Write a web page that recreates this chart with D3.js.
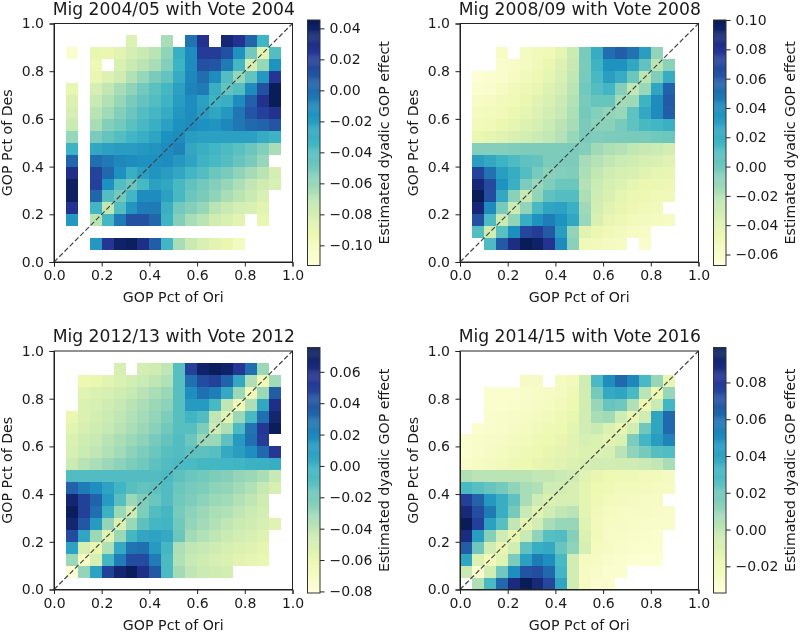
<!DOCTYPE html>
<html>
<head>
<meta charset="utf-8">
<script src="https://cdn.jsdelivr.net/npm/d3@7"></script>
<style>
    html, body { margin: 0; padding: 0; background: #fff; }
    svg { display: block; filter: blur(0.35px); }
    text { font-family: "DejaVu Sans", sans-serif; fill: #1a1a1a; }
    .axis text { font-size: 14px; }
    .axis line, .axis path { stroke: #222; stroke-width: 1px; }
    .title { font-size: 17.2px; text-anchor: middle; }
    .label { font-size: 14.2px; text-anchor: middle; }
    .cell { shape-rendering: crispEdges; }
</style>
</head>
<body>
<div id="chart"></div>
<script>
const _ = null;

// effect values in thousandths, rows run from the top of the plot (y 0.95-1.00) down, columns from x 0.00-0.05
const grid2004 = [
    [],
    [_,_,_,_,_,_,-85,_,_,-65,_,-2,28,_,36,27,3,-33],
    [_,-108,_,-90,-92,-88,-80,-75,-70,-58,-30,-12,22,22,12,-15,-50,-88,-40],
    [_,_,_,-95,_,-83,-75,-70,-65,-55,-32,-12,12,10,-5,-35,-80,-60,-15],
    [_,_,_,-92,-85,-78,-68,-60,-52,-45,-28,-10,0,-12,-40,-60,-45,-18,25],
    [_,-90,_,-80,-72,-65,-58,-50,-42,-35,-22,-8,-5,-30,-45,-40,-12,12,45],
    [_,-85,_,-75,-68,-60,-52,-45,-40,-32,-20,-12,-22,-32,-30,-12,5,28,45],
    [_,-80,_,-70,-63,-55,-48,-40,-35,-28,-17,-12,-20,-25,-18,-3,10,20,28],
    [_,-75,_,-65,-55,-50,-42,-36,-30,-22,-14,-12,-14,-16,-10,-4,2,4,10],
    [_,-60,_,-52,-45,-40,-34,-30,-24,-14,-12,-20,-22,-22,-22,-22,-22,-28,-32],
    [_,-32,_,-26,-22,-20,-20,-18,-16,-12,-8,-26,-30,-34,-38,-42,-48,-55,-65],
    [_,3,_,0,-5,-10,-12,-14,-14,-12,-18,-24,-32,-36,-40,-46,-52,-60],
    [_,30,_,18,2,-14,-30,-22,-16,-20,-26,-34,-40,-48,-52,-58,-64,-70,-80],
    [_,42,_,20,-14,-40,-48,-36,-22,-26,-36,-44,-50,-55,-60,-66,-72,-78,-82],
    [_,42,_,3,-40,-50,-34,-12,-12,-22,-36,-48,-52,-58,-65,-70,-75,-82],
    [_,27,_,-34,-72,-40,-16,-6,-5,-30,-50,-55,-60,-70,-75,-80,-83,-88],
    [_,-18,_,-70,-35,-5,12,12,3,-32,-55,-65,-70,-78,-83,-88,_,-90],
    [],
    [_,_,_,-18,25,40,43,30,6,-34,-65,-75,-82,-88,-92,-100],
    []
];

const grid2008 = [
    [],
    [],
    [_,_,_,-58,_,-55,-52,-50,-42,-28,-2,22,52,58,50,30,-10],
    [_,_,_,-60,-58,-55,-50,-45,-38,-26,-3,18,36,36,25,5,-22,-8],
    [_,-65,-63,-60,-56,-52,-48,-42,-35,-24,-2,14,30,22,2,-22,-5,22],
    [_,-62,-60,-56,-52,-48,-44,-38,-32,-22,0,10,16,-6,-24,-12,26,56],
    [_,-58,-56,-52,-50,-45,-40,-35,-28,-20,-2,3,3,-15,-14,18,40,60],
    [_,-55,-53,-50,-46,-42,-37,-32,-26,-18,-1,-6,-10,-12,6,24,40,58],
    [_,-52,-50,-46,-42,-38,-34,-28,-22,-16,-3,-8,-8,-2,6,14,16,20],
    [_,-45,-42,-40,-36,-32,-28,-24,-20,-12,-3,-5,-4,-3,-2,-2,0,2],
    [_,-6,-6,-6,-5,-4,-4,-4,-4,-3,-6,-14,-18,-20,-24,-26,-28,-32],
    [_,30,24,18,12,6,4,-4,-4,-4,-16,-20,-24,-28,-30,-34,-36,-40],
    [_,72,50,30,22,10,-2,-8,-6,-5,-18,-24,-30,-34,-36,-40,-42,-44],
    [_,90,68,36,20,-4,-12,-5,2,2,-20,-28,-34,-38,-42,-46,-46,-48],
    [_,100,66,24,-8,-26,-10,6,10,10,-18,-30,-36,-42,-46,-48,-50,-50],
    [_,90,40,-2,-28,-10,14,26,28,20,-14,-32,-40,-44,-48,-50,-52],
    [_,65,12,-28,-10,22,36,45,36,25,-12,-36,-44,-48,-52,-54,-55,-56],
    [_,10,-30,8,38,70,75,60,30,-10,-40,-46,-50,-54,-56,-58],
    [_,_,12,60,85,100,95,80,40,-8,-50,-52,-55,-56,_,-60],
    []
];

const grid2012 = [
    [],
    [_,_,_,_,_,-50,_,-48,-46,-40,-10,50,70,75,70,55,30,-30],
    [_,_,-62,-60,-56,-52,-48,-44,-40,-36,-10,30,45,50,35,5,-35,-65,-32],
    [_,_,-55,-52,-50,-46,-42,-38,-34,-30,-10,18,30,24,4,-30,-65,-30,38],
    [_,_,-52,-50,-46,-42,-38,-34,-30,-26,-10,12,12,-5,-40,-65,-35,5,60],
    [_,-60,-52,-48,-44,-40,-36,-32,-28,-22,-10,-2,-8,-40,-55,-30,-5,30,68],
    [_,-56,-50,-46,-42,-38,-34,-30,-25,-18,-10,-10,-22,-45,-35,-6,28,55,75],
    [_,-52,-46,-42,-38,-34,-30,-26,-20,-14,-8,-16,-30,-30,-12,12,30,52],
    [_,-50,-44,-40,-36,-32,-26,-22,-16,-10,-8,-12,-12,-10,4,10,18,32,55],
    [_,-44,-38,-34,-30,-26,-22,-18,-12,-8,-6,-6,-4,-4,-3,-2,0,0,2],
    [_,-8,-8,-8,-8,-8,-8,-8,-8,-6,-12,-16,-18,-22,-24,-28,-30,-34,-42],
    [_,35,25,18,8,-2,-10,-14,-12,-8,-16,-20,-22,-26,-28,-32,-36,-42,-50],
    [_,68,50,35,12,-10,-30,-22,-16,-8,-18,-22,-26,-30,-32,-36,-40,-46],
    [_,75,50,30,0,-30,-45,-22,-8,-4,-20,-26,-30,-34,-36,-40,-44,-48],
    [_,68,40,12,-28,-52,-30,-12,-4,-2,-18,-28,-32,-36,-40,-44,-46,-50,-55],
    [_,45,6,-30,-55,-30,-4,6,8,4,-16,-32,-36,-40,-44,-48,-50,-54],
    [_,8,-50,-60,-35,4,28,30,12,-4,-35,-40,-42,-46,-50,-52,-54,-58],
    [_,-30,-70,-50,-4,25,45,45,25,-6,-36,-42,-46,-50,-52,-56,-58,-60],
    [_,-78,-28,8,50,68,75,60,40,-6,-32,-40,-44,-46,-48],
    []
];

const grid2016 = [
    [],
    [],
    [_,_,_,_,_,-26,-26,_,-24,-22,-5,30,50,62,52,30,10,-16],
    [_,_,-30,-30,-30,-28,-27,-26,-24,-20,-6,18,38,40,30,2,-18,10],
    [_,_,-30,-30,-29,-27,-26,-24,-22,-18,-6,10,22,20,4,-18,-2,32],
    [_,_,-29,-28,-27,-26,-24,-22,-20,-16,-6,6,8,-4,-16,-4,40,62],
    [_,-30,-29,-28,-26,-24,-22,-20,-18,-14,-6,-2,-10,-16,-6,20,40,62],
    [-30,-28,-27,-26,-24,-22,-20,-18,-16,-12,-8,-10,-14,-10,16,32,44,54],
    [-30,-28,-26,-24,-22,-20,-18,-16,-14,-12,-10,-10,-8,2,12,18,26,28],
    [-28,-26,-24,-22,-20,-18,-16,-14,-12,-10,-8,-6,-6,-5,-4,-2,0,6],
    [4,2,2,2,2,2,0,0,-2,-5,-12,-16,-18,-20,-20,-22,-22,-24],
    [30,26,22,18,12,6,4,-4,-6,-8,-14,-18,-20,-22,-22,-23,-24,-25],
    [78,64,46,36,24,6,-4,-10,-8,-8,-14,-20,-22,-23,-24,-25,-26],
    [90,72,56,36,18,-2,-12,-6,0,2,-14,-21,-24,-25,-26,-26,-27,-28],
    [99,78,42,26,0,-14,-6,6,10,10,-12,-22,-25,-26,-27,-28,-28,-28],
    [88,44,14,-4,-16,-2,12,26,28,14,-10,-22,-26,-27,-28,-29,-30],
    [66,20,-6,-16,-6,24,36,38,22,12,-8,-24,-26,-28,-29,-30,-30],
    [40,-10,-22,-12,16,42,56,50,30,-6,-24,-26,-28,-30,-31,-32,-32],
    [-2,-30,-6,20,50,70,72,62,32,-6,-26,-28,-30,-30],
    [_,4,30,62,88,99,90,75,40,-6,-26,-30,-30]
];

const titles = ['Mig 2004/05 with Vote 2004', 'Mig 2008/09 with Vote 2008', 'Mig 2012/13 with Vote 2012', 'Mig 2014/15 with Vote 2016'];
const grids = [grid2004, grid2008, grid2012, grid2016];
const ranges = [[-0.113, 0.0454], [-0.0675, 0.1], [-0.081, 0.0755], [-0.0345, 0.099]];
const barTicks = [
    [-0.10, -0.08, -0.06, -0.04, -0.02, 0, 0.02, 0.04],
    [-0.06, -0.04, -0.02, 0, 0.02, 0.04, 0.06, 0.08, 0.10],
    [-0.08, -0.06, -0.04, -0.02, 0, 0.02, 0.04, 0.06],
    [-0.02, 0, 0.02, 0.04, 0.06, 0.08]
];
const axisTicks = [0, 0.2, 0.4, 0.6, 0.8, 1];

const width = 800, height = 632;
const plotSize = 238.5, cell = 0.05;
const plotLeft = [54, 460, 54, 460];
const plotTop = [23.5, 23.5, 351, 351];
const barLeft = [307.5, 713.5, 307.5, 713.5];
const barWidth = 12.5, barOver = 3.5;

const ylgnbu = d3.piecewise(d3.interpolateRgb, ['#ffffd9', '#edf8b1', '#c7e9b4', '#7fcdbb', '#41b6c4', '#1d91c0', '#225ea8', '#253494', '#081d58']);

const svg = d3.select('#chart').append('svg').attr('width', width).attr('height', height);

titles.forEach((title, p) => {
    const g = svg.append('g').attr('transform', `translate(${plotLeft[p]},${plotTop[p]})`);
    const x = d3.scaleLinear().domain([0, 1]).range([0, plotSize]);
    const y = d3.scaleLinear().domain([0, 1]).range([plotSize, 0]);
    const color = d3.scaleSequential(ylgnbu).domain(ranges[p]);

    const cells = [];
    grids[p].forEach((row, r) => row.forEach((v, c) => {
        if (v !== null) cells.push({ x0: c * cell, y1: 1 - r * cell, value: v / 1000 });
    }));

    g.selectAll('rect.cell').data(cells).enter().append('rect')
        .attr('class', 'cell')
        .attr('x', d => x(d.x0))
        .attr('y', d => y(d.y1))
        .attr('width', x(cell) - x(0))
        .attr('height', y(0) - y(cell))
        .attr('fill', d => color(d.value));

    g.append('line')
        .attr('x1', x(0)).attr('y1', y(0)).attr('x2', x(1)).attr('y2', y(1))
        .attr('stroke', '#444').attr('stroke-width', 1.2).attr('stroke-dasharray', '5,2.4');

    g.append('g').attr('class', 'axis').attr('transform', `translate(0,${plotSize})`)
        .call(d3.axisBottom(x).tickValues(axisTicks).tickFormat(d3.format('.1f')).tickSize(4.5).tickPadding(4));
    g.append('g').attr('class', 'axis')
        .call(d3.axisLeft(y).tickValues(axisTicks).tickFormat(d3.format('.1f')).tickSize(4.5).tickPadding(5.5));
    g.append('rect').attr('width', plotSize).attr('height', plotSize)
        .attr('fill', 'none').attr('stroke', '#222').attr('stroke-width', 1);

    g.append('text').attr('class', 'title').attr('x', plotSize / 2 + 0.5).attr('y', -9).text(title);
    g.append('text').attr('class', 'label').attr('x', plotSize / 2).attr('y', plotSize + 40).text('GOP Pct of Ori');
    g.append('text').attr('class', 'label')
        .attr('transform', `translate(-42,${plotSize / 2}) rotate(-90)`).text('GOP Pct of Des');

    // colorbar, drawn in 256 bands like the colormap
    const barHeight = plotSize + 2 * barOver;
    const bar = svg.append('g').attr('transform', `translate(${barLeft[p]},${plotTop[p] - barOver})`);
    const barY = d3.scaleLinear().domain(ranges[p]).range([barHeight, 0]);
    bar.selectAll('rect').data(d3.range(256)).enter().append('rect')
        .attr('x', 0)
        .attr('y', d => barHeight * (255 - d) / 256)
        .attr('width', barWidth)
        .attr('height', barHeight / 256 + 0.4)
        .attr('fill', d => ylgnbu(d / 255));
    bar.append('g').attr('class', 'axis').attr('transform', `translate(${barWidth},0)`)
        .call(d3.axisRight(barY).tickValues(barTicks[p]).tickFormat(d3.format('.2f')).tickSize(4.5).tickPadding(5))
        .call(a => a.select('.domain').remove());
    bar.append('rect').attr('width', barWidth).attr('height', barHeight)
        .attr('fill', 'none').attr('stroke', '#333').attr('stroke-width', 1);
    bar.append('text').attr('class', 'label')
        .attr('transform', `translate(${barWidth + 69},${barHeight / 2}) rotate(-90)`).text('Estimated dyadic GOP effect');
});
</script>
</body>
</html>
